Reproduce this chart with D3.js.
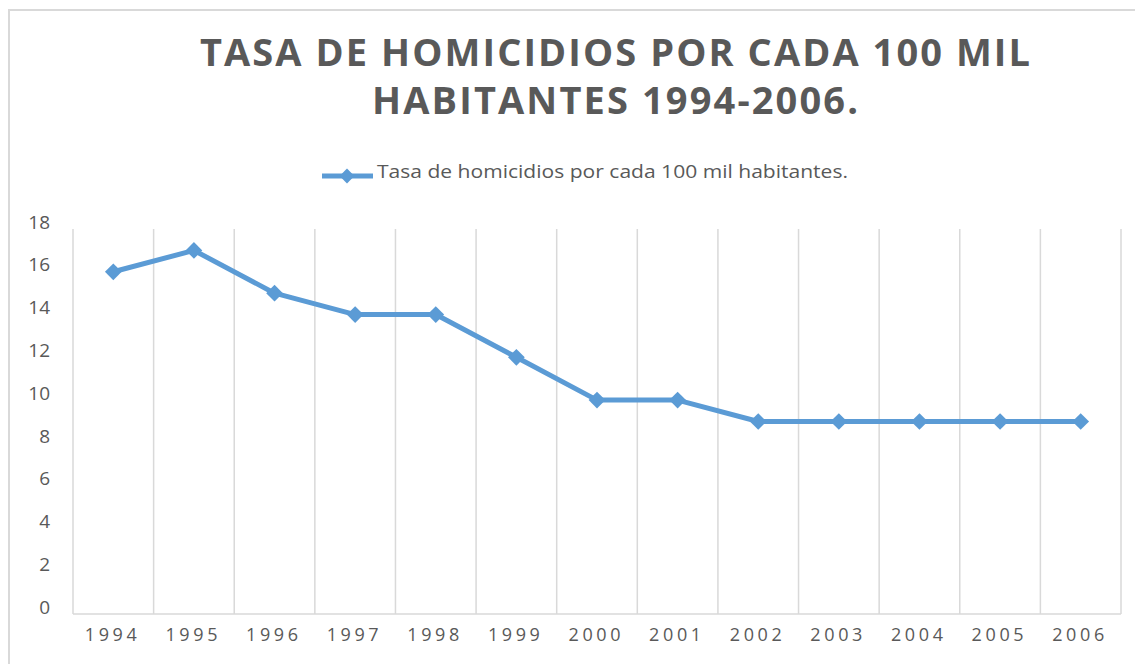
<!DOCTYPE html>
<html>
<head>
<meta charset="utf-8">
<script src="https://cdn.jsdelivr.net/npm/d3@7"></script>
<style>
  html, body { margin: 0; padding: 0; background: #ffffff; }
  svg { display: block; }
</style>
</head>
<body>
<script>
const years = ["1994","1995","1996","1997","1998","1999","2000","2001","2002","2003","2004","2005","2006"];
const tasa = [16, 17, 15, 14, 14, 12, 10, 10, 9, 9, 9, 9, 9];
const yTicks = [0, 2, 4, 6, 8, 10, 12, 14, 16, 18];
const titleLines = ["TASA DE HOMICIDIOS POR CADA 100 MIL", "HABITANTES 1994-2006."];
const seriesName = "Tasa de homicidios por cada 100 mil habitantes.";

const W = 1135, H = 664;
const textColor = "#595959";
const lineColor = "#5b9bd5";
const gridColor = "#d9d9d9";
const font = "'Open Sans', 'Liberation Sans', sans-serif";

const svg = d3.select("body").append("svg").attr("width", W).attr("height", H);

// chart border
svg.append("rect").attr("x", 9).attr("y", 10).attr("width", 1140).attr("height", 680)
  .attr("fill", "#fff").attr("stroke", gridColor).attr("stroke-width", 2);

const plot = { left: 73, right: 1121, top: 229, bottom: 614 };

const x = d3.scaleBand().domain(years).range([plot.left, plot.right]).padding(0);
const y = d3.scaleLinear().domain([0, 18]).range([plot.bottom, plot.top]);

// vertical gridlines at band boundaries
const bounds = years.map(d => x(d)).concat([plot.right]);
svg.append("g").selectAll("line").data(bounds).join("line")
  .attr("x1", d => d).attr("x2", d => d)
  .attr("y1", plot.top).attr("y2", plot.bottom)
  .attr("stroke", gridColor).attr("stroke-width", 1.5);

// baseline
svg.append("line").attr("x1", plot.left).attr("x2", plot.right)
  .attr("y1", y(0)).attr("y2", y(0)).attr("stroke", gridColor).attr("stroke-width", 1.5);

// y axis labels
svg.append("g").selectAll("text").data(yTicks).join("text")
  .attr("x", 50).attr("y", d => y(d) - 7)
  .attr("dy", "0.35em")
  .attr("text-anchor", "end")
  .attr("font-family", font).attr("font-size", 19).attr("fill", textColor)
  .text(d => d);

// x axis labels
svg.append("g").selectAll("text").data(years).join("text")
  .attr("x", d => x(d) + x.bandwidth() / 2 - 2.5)
  .attr("y", 635).attr("dy", "0.35em")
  .attr("text-anchor", "middle")
  .attr("font-family", font).attr("font-size", 18).attr("fill", textColor)
  .attr("textLength", 52).attr("lengthAdjust", "spacing")
  .text(d => d);

// line
const pts = years.map((d, i) => [x(d) + x.bandwidth() / 2, y(tasa[i])]);
svg.append("path").datum(pts)
  .attr("d", d3.line())
  .attr("fill", "none").attr("stroke", lineColor).attr("stroke-width", 5)
  .attr("stroke-linejoin", "round");

const diamond = d3.symbol().type(d3.symbolDiamond2 || d3.symbolSquare).size(150);
svg.append("g").selectAll("path").data(pts).join("path")
  .attr("transform", d => `translate(${d[0]},${d[1]}) rotate(45)`)
  .attr("d", d3.symbol().type(d3.symbolSquare).size(140))
  .attr("fill", lineColor);

// title
const titleW = [830, 486];
svg.append("g").selectAll("text").data(titleLines).join("text")
  .attr("x", 615).attr("y", (d, i) => 66 + i * 47.5)
  .attr("text-anchor", "middle")
  .attr("font-family", font).attr("font-weight", "bold").attr("font-size", 38)
  .attr("fill", textColor)
  .attr("textLength", (d, i) => titleW[i]).attr("lengthAdjust", "spacing")
  .text(d => d);

// legend
const lg = svg.append("g");
lg.append("line").attr("x1", 322).attr("x2", 373).attr("y1", 176).attr("y2", 176)
  .attr("stroke", lineColor).attr("stroke-width", 5);
lg.append("path").attr("transform", "translate(347,176) rotate(45)")
  .attr("d", d3.symbol().type(d3.symbolSquare).size(110)).attr("fill", lineColor);
lg.append("text").attr("x", 377).attr("y", 171).attr("dy", "0.35em")
  .attr("font-family", font).attr("font-size", 19).attr("fill", textColor)
  .attr("textLength", 471).attr("lengthAdjust", "spacingAndGlyphs")
  .text(seriesName);
</script>
</body>
</html>
